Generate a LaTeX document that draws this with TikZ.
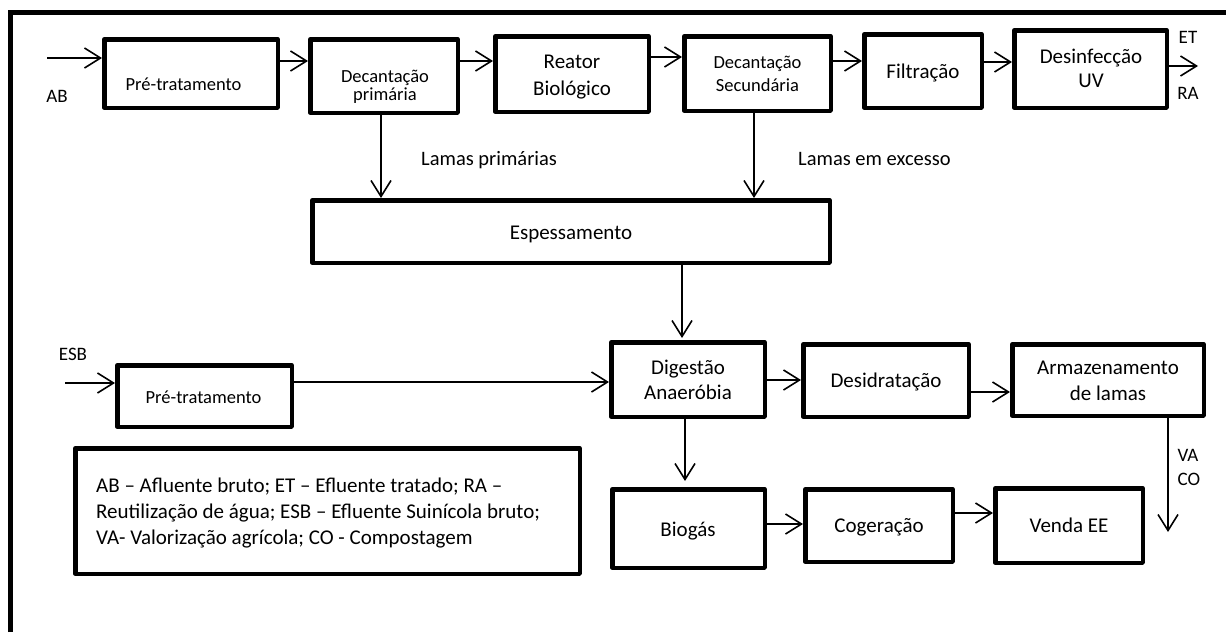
\documentclass[tikz,border=0pt]{standalone}
\usepackage{fontspec}
\setmainfont{Carlito}
\usetikzlibrary{arrows.meta,calc}
% process box given by its outer corners (x1,y1) (x2,y2)
\newcommand\procnode[5]{\node[procbox, minimum width={#4-#2-4.5}, minimum height={#5-#3-4.5}] (#1) at ({(#2+#4)/2},{(#3+#5)/2}) {};}
\begin{document}
\begin{tikzpicture}[x=1pt,y=-1pt,
  procbox/.style={draw, line width=4.5pt, line join=round, inner sep=0pt},
  flow/.style={line width=1.6pt, -{Straight Barb[length=16pt,width=20pt]}},
  big/.style={font=\fontsize{21}{25.5}\selectfont, align=center, inner sep=0pt, anchor=base},
  small/.style={font=\fontsize{18.5}{22.5}\selectfont, align=center, inner sep=0pt, anchor=base},
  tag/.style={font=\fontsize{19}{23}\selectfont, inner sep=0pt, anchor=base}
]
\useasboundingbox (0,0) rectangle (1226,632);

% outer frame
\draw[line width=5pt] (10.5,632) -- (10.5,12.5) -- (1226,12.5);

% process boxes
\procnode{pre1}{102}{37}{280}{110}
\procnode{decprim}{308}{37}{460}{115}
\procnode{reator}{493}{34}{651}{114}
\procnode{decsec}{682}{34}{833}{113}
\procnode{filt}{862}{32}{984}{110}
\procnode{desinf}{1012}{28}{1169}{110}
\procnode{esp}{310}{198}{832}{265}
\procnode{pre2}{115}{363}{294}{429}
\procnode{dig}{609}{340}{767}{419}
\procnode{desid}{801}{342}{971}{419}
\procnode{armaz}{1010}{342}{1206}{418}
\procnode{biogas}{610}{487}{767}{570}
\procnode{cog}{803}{487}{955}{564}
\procnode{venda}{993}{486}{1145}{565}
\procnode{legend}{73}{446}{582}{576}

% box texts (base = baseline of the last line)
\node[small] (tpre1) at (183.5,90) {Pré-tratamento};
\node[small] (tdecprim) at (385,100) {Decantação\\[-4.5pt]primária};
\node[big] (treator) at (572,95) {Reator\\[1.5pt]Biológico};
\node[small] (tdecsec) at (757.5,91) {Decantação\\Secundária};
\node[big] (tfilt) at (923,78) {Filtração};
\node[big] (tdesinf) at (1091,87) {Desinfecção\\[-1.5pt]UV};
\node[big] (tesp) at (571,239) {Espessamento};
\node[small] (tpre2) at (203.5,403) {Pré-tratamento};
\node[big] (tdig) at (688,399) {Digestão\\[-0.5pt]Anaeróbia};
\node[big] (tdesid) at (886,387) {Desidratação};
\node[big] (tarmaz) at (1108,400) {Armazenamento\\[0.5pt]de lamas};
\node[big] (tbiogas) at (688,536) {Biogás};
\node[big] (tcog) at (879,532) {Cogeração};
\node[big] (tvenda) at (1069,532) {Venda EE};
\node[font=\fontsize{21}{26}\selectfont, align=left, inner sep=0pt, anchor=base west] (tlegend) at (96,544)
  {AB – Afluente bruto; ET – Efluente tratado; RA –\\
   Reutilização de água; ESB – Efluente Suinícola bruto;\\
   VA- Valorização agrícola; CO - Compostagem};

% stream labels
\node[tag] (lab) at (57,102) {AB};
\node[tag] (let) at (1188,43) {ET};
\node[tag] (lra) at (1188,99) {RA};
\node[tag] (lesb) at (73,360) {ESB};
\node[tag] (lva) at (1188,461) {VA};
\node[tag] (lco) at (1189,485) {CO};
\node[font=\fontsize{20.5}{24}\selectfont, inner sep=0pt, anchor=base west] (llp) at (421,165) {Lamas primárias};
\node[font=\fontsize{20.5}{24}\selectfont, inner sep=0pt, anchor=base west] (llx) at (798,165) {Lamas em excesso};

% helper levels for connectors
\coordinate (h57) at (0,57);
\coordinate (h61) at (0,61);
\coordinate (h62) at (0,62);
\coordinate (h380) at (0,380);
\coordinate (h382) at (0,382);
\coordinate (h392) at (0,392);
\coordinate (h513) at (0,513);
\coordinate (h524) at (0,524);
\coordinate (v381) at (381,0);
\coordinate (v682) at (682,0);
\coordinate (v685) at (685,0);
\coordinate (v754) at (754,0);
\coordinate (v1168) at (1168,0);
\coordinate (abin) at (47,58);
\coordinate (esbin) at (65,383);
\coordinate (etout) at (1198,66);
\coordinate (vaout) at (1168,532);

% liquid line
\draw[flow] (abin) -- (abin -| pre1.west);
\draw[flow] (pre1.east |- h61) -- (decprim.west |- h61);
\draw[flow] (decprim.east |- h61) -- (reator.west |- h61);
\draw[flow] (reator.east |- h57) -- (decsec.west |- h57);
\draw[flow] (decsec.east |- h61) -- (filt.west |- h61);
\draw[flow] (filt.east |- h62) -- (desinf.west |- h62);
\draw[flow] (desinf.east |- etout) -- (etout);

% sludge line
\draw[flow] (decprim.south -| v381) -- (esp.north -| v381);
\draw[flow] (decsec.south -| v754) -- (esp.north -| v754);
\draw[flow, shorten >=2pt] (esp.south -| v682) -- (dig.north -| v682);
\draw[flow] (esbin) -- (esbin -| pre2.west);
\draw[flow] (pre2.east |- h382) -- (dig.west |- h382);
\draw[flow] (dig.east |- h380) -- (desid.west |- h380);
\draw[flow] (desid.east |- h392) -- (armaz.west |- h392);
\draw[flow] (armaz.south -| v1168) -- (vaout);

% biogas line
\draw[flow, shorten >=6pt] (dig.south -| v685) -- (biogas.north -| v685);
\draw[flow] (biogas.east |- h524) -- (cog.west |- h524);
\draw[flow] (cog.east |- h513) -- (venda.west |- h513);
\end{tikzpicture}
\end{document}
